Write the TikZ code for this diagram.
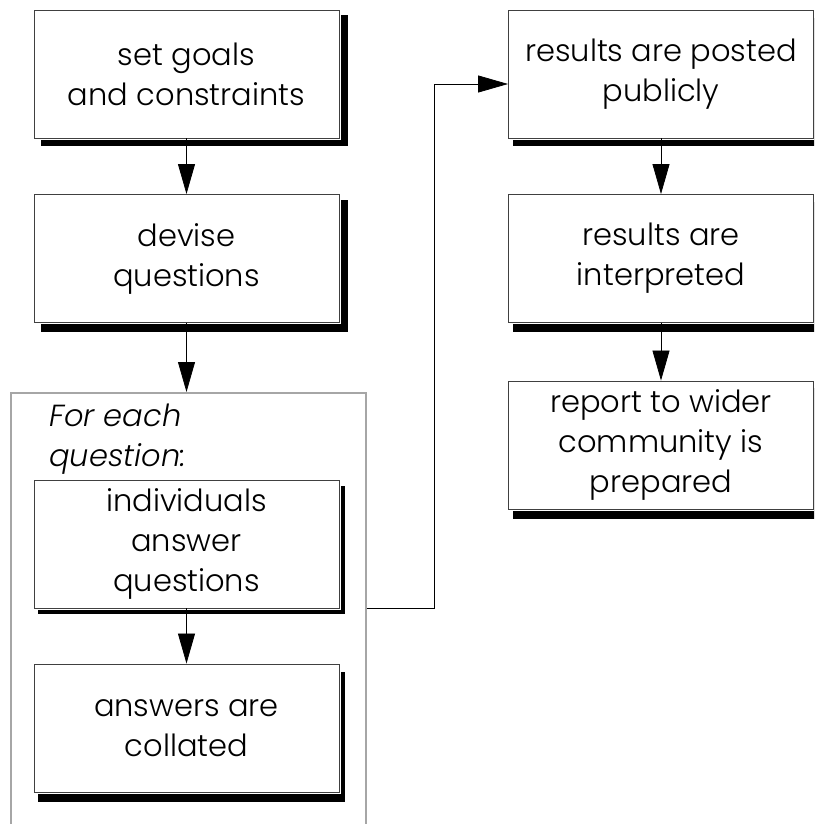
\documentclass[tikz,border=0pt]{standalone}
\usepackage{fontspec}
\setmainfont{Poppins}[UprightFont={* Light},ItalicFont={* Light Italic}]
\usetikzlibrary{arrows.meta,calc}

\tikzset{
  stepbox/.style={
    rectangle, draw=black!75, line width=0.9pt, fill=white,
    preaction={draw=white, line width=3pt},
    minimum width=305pt, minimum height=128pt, inner sep=0pt,
    align=center, font=\fontsize{30.5}{40}\selectfont
  },
  dropshadow/.style={fill=black},
  arr/.style={draw=black, line width=0.8pt,
    -{Triangle[length=30pt,width=17pt]}},
  loopframe/.style={draw=black!35, line width=1.5pt, inner sep=0pt}
}

\begin{document}
\begin{tikzpicture}[x=1pt,y=-1pt]
  \useasboundingbox (0,0) rectangle (814,824);
  \clip (0,0) rectangle (814,824);

  % repeated part: frame for the per-question steps
  \node[loopframe, anchor=north west, minimum width=355pt, minimum height=520pt]
    (loop) at (10,392) {};

  % shadows behind the step boxes
  \fill[dropshadow] (41,15)  rectangle (348,146);
  \fill[dropshadow] (41,200) rectangle (348,332);
  \fill[dropshadow] (38,486) rectangle (345,614);
  \fill[dropshadow] (38,672) rectangle (345,802);
  \fill[dropshadow] (513,18) rectangle (822,146);
  \fill[dropshadow] (513,202) rectangle (822,332);
  \fill[dropshadow] (513,388) rectangle (822,519);

  % step boxes
  \node[stepbox] (b1) at (186.5,74)  {set goals\\and constraints};
  \node[stepbox] (b2) at (186.5,258.5) {devise\\questions};
  \node[stepbox] (b3) at (186.5,544) {individuals\\answer\\questions};
  \node[stepbox] (b4) at (186.5,728) {answers are\\collated};
  \node[stepbox] (b5) at (661,74)    {results are posted\\publicly};
  \node[stepbox] (b6) at (661,258.5) {results are\\interpreted};
  \node[stepbox] (b7) at (661,445)   {report to wider\\community is\\prepared};

  % label of the repeated part (base anchor sits on the last line)
  \node[anchor=base west, align=left, inner sep=0pt,
        font=\fontsize{30.5}{40}\selectfont\itshape]
    (each) at (49,466) {For each\\question:};

  % connectors
  \draw[arr] (b1) -- (b2);
  \draw[arr] (b2) -- (loop.north -| b2);
  \draw[arr] (b3) -- (b4);
  \draw[arr] (loop.east |- b3.south) -- ++(68,0) |- ($(b5.west)+(0,10)$);
  \draw[arr] (b5) -- (b6);
  \draw[arr] (b6) -- (b7);
\end{tikzpicture}
\end{document}
